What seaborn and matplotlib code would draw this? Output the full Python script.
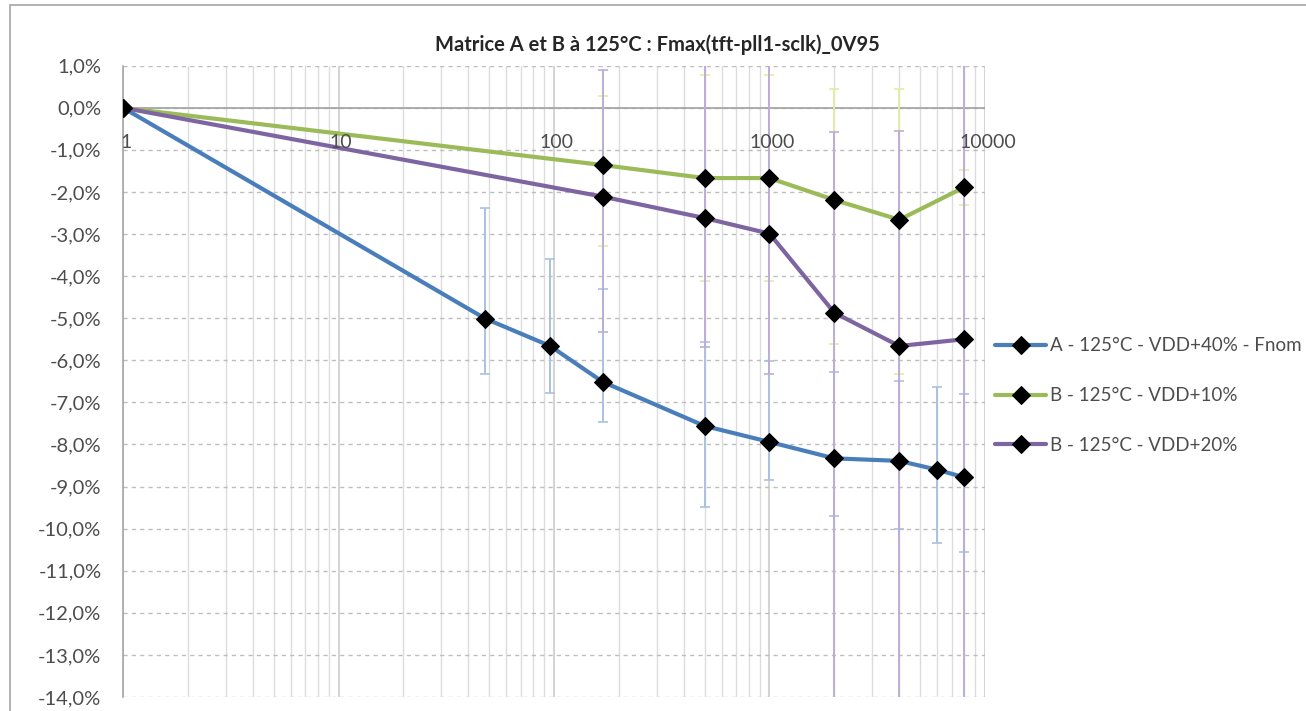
import matplotlib
matplotlib.use("Agg")
import matplotlib.pyplot as plt
from matplotlib.ticker import FixedLocator, FuncFormatter, NullFormatter
from matplotlib.patches import Rectangle
import numpy as np
import pandas as pd
import seaborn as sns

# ---------------- data (percent) ----------------
title = "Matrice A et B à 125°C : Fmax(tft-pll1-sclk)_0V95"
x_ticks = [1, 10, 100, 1000, 10000]
x_tick_labels = ["1", "10", "100", "1000", "10000"]
y_ticks = list(range(1, -15, -1))

label_A = "A - 125°C - VDD+40% - Fnom"
label_B10 = "B - 125°C - VDD+10%"
label_B20 = "B - 125°C - VDD+20%"

x_A = [1, 48, 96, 168, 500, 1000, 2000, 4000, 6000, 8000]
y_A = [0.0, -5.01, -5.66, -6.51, -7.56, -7.94, -8.33, -8.39, -8.60, -8.78]
hi_A = [0.0, -2.38, -3.59, -4.30, -5.57, -6.02, -6.28, -6.49, -6.63, -6.81]
lo_A = [0.0, -6.32, -6.77, -7.46, -9.49, -8.84, -9.71, -10.00, -10.34, -10.56]

x_B = [1, 168, 500, 1000, 2000, 4000, 8000]
y_B10 = [0.0, -1.36, -1.67, -1.67, -2.19, -2.66, -1.89]
hi_B10 = [0.0, 0.28, 0.78, 0.78, 0.44, 0.44, -1.48]
lo_B10 = [0.0, -3.28, -4.12, -4.12, -5.62, -6.33, -2.30]

y_B20 = [0.0, -2.11, -2.62, -2.99, -4.87, -5.66, -5.50]
hi_B20 = [0.0, 0.90, 1.50, 1.50, -0.57, -0.54, 1.50]
lo_B20 = [0.0, -5.32, -5.69, -6.33, -15.0, -15.0, -15.0]

# ---------------- style ----------------
sns.set_style("white")
plt.rcParams["font.family"] = ["Lato", "DejaVu Sans"]

W, H = 1306, 711
fig = plt.figure(figsize=(W / 100, H / 100), dpi=100)
ax = fig.add_axes([123 / W, 1 - 697 / H, (985 - 123) / W, (697 - 65.7) / H])

col_A, col_B10, col_B20 = "#4A7EBB", "#9BBB59", "#7F64A2"
ecol_A, ecol_B10, ecol_B20 = "#A9C1E3", "#E2EBA5", "#BBAED6"

series = [
    (label_A, x_A, y_A, hi_A, lo_A, col_A, ecol_A),
    (label_B10, x_B, y_B10, hi_B10, lo_B10, col_B10, ecol_B10),
    (label_B20, x_B, y_B20, hi_B20, lo_B20, col_B20, ecol_B20),
]

for name, xs, ys, his, los, c, ec in series:
    ys_a = np.array(ys)
    ax.errorbar(xs, ys, yerr=[ys_a - np.array(los), np.array(his) - ys_a],
                fmt="none", ecolor=ec, elinewidth=1.4, capsize=3.5,
                capthick=1.2, zorder=2)

for name, xs, ys, his, los, c, ec in series:
    df = pd.DataFrame({"x": xs, "y": ys})
    sns.lineplot(data=df, x="x", y="y", ax=ax, color=c, linewidth=3.0,
                 marker="D", markersize=9, markerfacecolor="black",
                 markeredgecolor="black", label=name, zorder=4)

ax.set_xscale("log")
ax.set_xlim(1, 10000)
ax.set_ylim(-14, 1)

# gridlines
ax.xaxis.set_major_locator(FixedLocator(x_ticks))
minor = [m * 10 ** k for k in range(4) for m in range(2, 10)]
ax.xaxis.set_minor_locator(FixedLocator(minor))
ax.xaxis.set_major_formatter(NullFormatter())
ax.xaxis.set_minor_formatter(NullFormatter())
ax.tick_params(axis="x", which="both", length=0)
ax.grid(which="major", axis="x", color="#C8C8C8", linewidth=1.1, zorder=0)
ax.grid(which="minor", axis="x", color="#DCDCDC", linewidth=1.0, zorder=0)

ax.yaxis.set_major_locator(FixedLocator(y_ticks))
ax.yaxis.set_major_formatter(FuncFormatter(lambda v, p: f"{v:.1f}%".replace(".", ",")))
ax.grid(which="major", axis="y", color="#BDBDBD", linewidth=1.0,
        linestyle=(0, (3, 3)), zorder=0)
ax.tick_params(axis="y", which="major", length=5, direction="inout",
               color="#BFBFBF", labelsize=14.5, labelcolor="#4D4D4D", pad=13)

for s in ["top", "right", "bottom"]:
    ax.spines[s].set_visible(False)
ax.spines["left"].set_color("#A6A6A6")
ax.spines["left"].set_linewidth(1.2)

ax.axhline(0, color="#A6A6A6", linewidth=1.3, zorder=1)
ax.set_xlabel("")
ax.set_ylabel("")

for xv, lab in zip(x_ticks, x_tick_labels):
    ax.annotate(lab, xy=(xv, 0), xytext=(2, -25), textcoords="offset points",
                ha="center", va="center", fontsize=14, color="#4D4D4D",
                zorder=5)

fig.text(657 / W, 1 - 45 / H, title, ha="center", va="center",
         fontsize=14.5, fontweight="bold", color="#262626")

ax.legend_.remove()
handles, labels = ax.get_legend_handles_labels()
fig.legend(handles, labels, loc="upper left",
           bbox_to_anchor=(986 / W, 1 - 328 / H), frameon=False,
           fontsize=13.5, handlelength=2.7, handletextpad=0.2,
           labelspacing=1.75, borderpad=0, labelcolor="#4D4D4D")

# outer chart border
fig.add_artist(Rectangle((10 / W, -0.1), 1.2, 1 - 5 / H + 0.1,
                         transform=fig.transFigure, fill=False,
                         edgecolor="#A6A6A6", linewidth=1.2))

fig.savefig("out.png", dpi=100)
